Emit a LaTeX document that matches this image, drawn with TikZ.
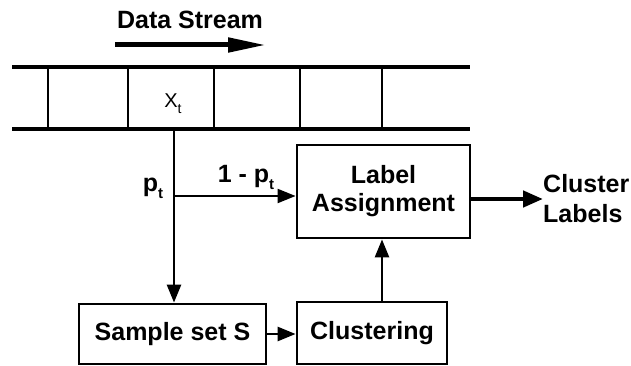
\documentclass[tikz,border=0pt]{standalone}
\usepackage{fontspec}
\setmainfont{Liberation Sans}
\usetikzlibrary{arrows.meta}
% small lowered "t" used as a subscript
\newcommand{\lowt}[2]{\raisebox{-#1}{\fontsize{#2}{#2}\selectfont t}}
\begin{document}
\begin{tikzpicture}[x=1pt,y=-1pt,
  every node/.style={font=\fontsize{25}{28}\selectfont\bfseries, inner sep=0pt},
  blk/.style={draw, line width=2.8pt},
  rail/.style={line width=4.2pt},
  cell/.style={line width=2.8pt},
  flow/.style={line width=2.6pt, -{Triangle[length=18pt,width=14pt]}}]
\useasboundingbox (0,0) rectangle (631,366);

% stream direction
\node (ds) at (190,20) {Data Stream};
\coordinate (dsa) at (115,45);
\coordinate (dsb) at (266,45);
\draw[line width=5pt, -{Triangle[length=38pt,width=14pt]}] (dsa) -- (dsb);

% the stream buffer
\draw[rail] (12,67) -- (470,67);
\draw[rail] (12,129) -- (470,129);
\foreach \x in {48,128,214,300,382}
  \draw[cell] (\x,67) -- (\x,129);
\node (xt) at (173,104) {\fontsize{20}{20}\selectfont\mdseries X\lowt{6pt}{14}};

% processing blocks
\node[blk, minimum width=187pt, minimum height=60pt] (ss) at (172.5,334) {Sample set S};
\node[blk, minimum width=150pt, minimum height=62pt] (cl) at (372,333) {Clustering};
\node[blk, minimum width=173pt, minimum height=93pt, align=center] (la) at (383.5,191.5) {Label\\Assignment};
\node[anchor=west, align=left, font=\fontsize{25}{30}\selectfont\bfseries] (out) at (543,199) {Cluster\\Labels};

% connectors
\coordinate (tap) at (174,129);
\coordinate (br) at (174,196);
\draw[flow] (tap) -- (ss.north -| tap);
\draw[flow, line width=2pt] (br) -- (br -| la.west);
\node (p) at (153,188) {p\lowt{7pt}{15}};
\node (q) at (246,177) {1 - p\lowt{7pt}{15}};
\draw[flow] (ss.east) -- (ss.east -| cl.west);
\draw[flow] (cl.north -| 382,0) -- (la.south -| 382,0);
\draw[line width=4.5pt, -{Triangle[length=20pt,width=16pt]}] (la.east |- 0,199) -- (out.west |- 0,199);
\end{tikzpicture}
\end{document}
